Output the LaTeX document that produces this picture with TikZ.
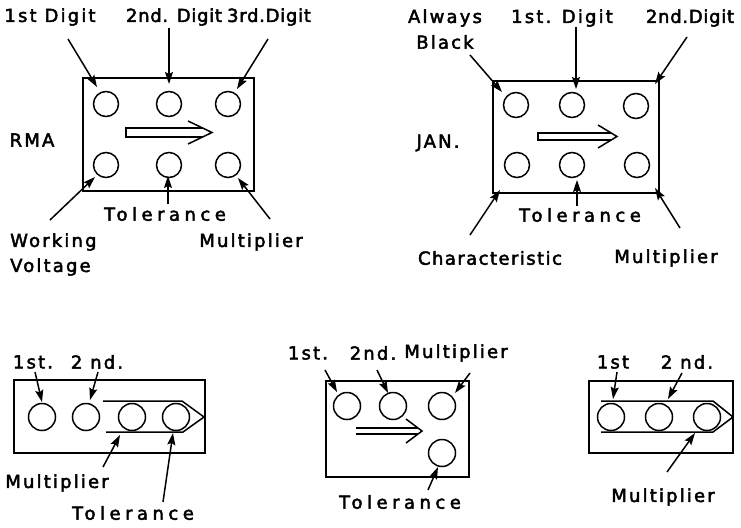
\documentclass[tikz,border=0pt]{standalone}
\usepackage{fontspec}
\setmainfont{DejaVu Sans}[LetterSpace=12,FakeBold=2.5]
\newfontfamily\widefont{DejaVu Sans}[LetterSpace=25,FakeBold=2.5]
\newfontfamily\tightfont{DejaVu Sans}[LetterSpace=4,FakeBold=2.5]
\newfontfamily\midfont{DejaVu Sans}[LetterSpace=8,FakeBold=2.5]
\usetikzlibrary{arrows.meta}
\begin{document}
\begin{tikzpicture}[x=1pt,y=-1pt,
  lab/.style={inner sep=0pt,font=\fontsize{18}{20}\selectfont},
  wlab/.style={inner sep=0pt,font=\fontsize{18}{20}\selectfont\widefont},
  tlab/.style={inner sep=0pt,font=\fontsize{18}{20}\selectfont\tightfont},
  mlab/.style={inner sep=0pt,font=\fontsize{18}{20}\selectfont\midfont},
  hole/.style={draw,circle,line width=1.5pt,minimum size=25pt,inner sep=0pt},
  bhole/.style={draw,circle,line width=1.5pt,minimum size=27pt,inner sep=0pt},
  case/.style={draw,line width=1.5pt,inner sep=0pt},
  ptr/.style={line width=1.5pt,-{Stealth[length=12pt,width=8pt,inset=2pt]}},
  outl/.style={line width=1.5pt,line join=miter}]
\useasboundingbox (0,0) rectangle (741,527);
% ---------- RMA ----------
\node[case,minimum width=171pt,minimum height=113pt] (rbox) at (168.5,134.5) {};
\node[hole] (r1) at (106,104) {};
\node[hole] (r2) at (169,104) {};
\node[hole] (r3) at (228,104) {};
\node[hole] (r4) at (106,165) {};
\node[hole] (r5) at (169,165) {};
\node[hole] (r6) at (228,165) {};
\draw[outl] (203,128)--(126,128)--(126,137)--(203,137);
\draw[outl] (188,121)--(212,132.5)--(188,144);
\node[lab] (rl1) at (50,17) {1st Digit};
\node[tlab] (rl2) at (174,17) {2nd. Digit};
\node[tlab] (rl3) at (269,17) {3rd.Digit};
\node[lab] (rma) at (32,140) {RMA};
\node[wlab] (rtol) at (165,214) {Tolerance};
\node[lab,anchor=west] (rwv1) at (10,242) {Working};
\node[lab,anchor=west] (rwv2) at (10,267) {Voltage};
\node[lab] (rmul) at (251,242) {Multiplier};
\coordinate (ra1) at (68,39);   \coordinate (rb1) at (97,87);
\coordinate (ra2) at (169,28);  \coordinate (rb2) at (169,84);
\coordinate (ra3) at (268,39);  \coordinate (rb3) at (237,89);
\coordinate (ra4) at (50,220);  \coordinate (rb4) at (95,177);
\coordinate (ra5) at (168,204); \coordinate (rb5) at (168,176);
\coordinate (ra6) at (270,219); \coordinate (rb6) at (238,178);
\foreach \i in {1,...,6} {\draw[ptr] (ra\i) -- (rb\i);}
% ---------- JAN ----------
\node[case,minimum width=166pt,minimum height=112pt] (jbox) at (576,137) {};
\node[hole] (j1) at (516,105) {};
\node[hole] (j2) at (572,105) {};
\node[hole] (j3) at (636,106) {};
\node[hole] (j4) at (517,165) {};
\node[hole] (j5) at (572,165) {};
\node[hole] (j6) at (637,165) {};
\draw[outl] (610.7,133)--(538,133)--(538,140)--(610.7,140);
\draw[outl] (598,125)--(617,136.5)--(598,148);
\node[lab] (jl0a) at (445,18) {Always};
\node[lab] (jl0b) at (445,42) {Black};
\node[lab] (jl1) at (562,18) {1st. Digit};
\node[tlab] (jl2) at (690,18) {2nd.Digit};
\node[lab] (jan) at (438,143) {JAN.};
\node[wlab] (jtol) at (580,215) {Tolerance};
\node[mlab] (jchar) at (490,258) {Characteristic};
\node[lab] (jmul) at (666,258) {Multiplier};
\coordinate (ja1) at (470,55);  \coordinate (jb1) at (502,92);
\coordinate (ja2) at (576,27);  \coordinate (jb2) at (576,89);
\coordinate (ja3) at (687,37);  \coordinate (jb3) at (655,84);
\coordinate (ja4) at (470,235); \coordinate (jb4) at (500,190);
\coordinate (ja5) at (577,206); \coordinate (jb5) at (577,180);
\coordinate (ja6) at (680,228); \coordinate (jb6) at (655,188);
\foreach \i in {1,...,6} {\draw[ptr] (ja\i) -- (jb\i);}
% ---------- bottom left ----------
\node[case,minimum width=191pt,minimum height=73pt] (abox) at (109.5,416.5) {};
\node[bhole] (a1) at (42,417) {};
\node[bhole] (a2) at (86,417) {};
\node[bhole] (a3) at (132,417) {};
\node[bhole] (a4) at (176,417) {};
\draw[outl] (103,401)--(182,401)--(204,417)--(183,432)--(106,432);
\node[lab] (al1) at (33,362) {1st.};
\node[lab] (al2) at (97,362) {2 nd.};
\node[lab] (amul) at (57,483) {Multiplier};
\node[wlab] (atol) at (133,513) {Tolerance};
\coordinate (aa1) at (35,372);  \coordinate (ab1) at (42,402);
\coordinate (aa2) at (98,372);  \coordinate (ab2) at (90,400);
\coordinate (aa3) at (103,467); \coordinate (ab3) at (120,435);
\coordinate (aa4) at (163,502); \coordinate (ab4) at (173,433);
\foreach \i in {1,...,4} {\draw[ptr] (aa\i) -- (ab\i);}
% ---------- bottom middle ----------
\node[case,minimum width=143pt,minimum height=96pt] (mbox) at (397.5,429) {};
\node[bhole] (m1) at (347,406) {};
\node[bhole] (m2) at (393,406) {};
\node[bhole] (m3) at (442,406) {};
\node[bhole] (m4) at (442,453) {};
\draw[outl] (356,428)--(418,428);
\draw[outl] (356,434)--(418,434);
\draw[outl] (406,419)--(422,431)--(406,443);
\node[lab] (ml1) at (308,353) {1st.};
\node[lab] (ml2) at (373,353) {2nd.};
\node[lab] (mmul) at (456,353) {Multiplier};
\node[wlab] (mtol) at (400,502) {Tolerance};
\coordinate (ma1) at (325,370); \coordinate (mb1) at (337,392);
\coordinate (ma2) at (377,370); \coordinate (mb2) at (388,393);
\coordinate (ma3) at (470,373); \coordinate (mb3) at (455,393);
\coordinate (ma4) at (428,490); \coordinate (mb4) at (438,467);
\foreach \i in {1,...,4} {\draw[ptr] (ma\i) -- (mb\i);}
% ---------- bottom right ----------
\node[case,minimum width=144pt,minimum height=72pt] (cbox) at (661,417) {};
\node[bhole] (c1) at (611,417) {};
\node[bhole] (c2) at (659,417) {};
\node[bhole] (c3) at (707,417) {};
\draw[outl] (601,401)--(713,401)--(733,417)--(713,432)--(601,432);
\node[lab] (cl1) at (613,362) {1st};
\node[lab] (cl2) at (687,362) {2 nd.};
\node[lab] (cmul) at (663,497) {Multiplier};
\coordinate (ca1) at (617,372); \coordinate (cb1) at (613,399);
\coordinate (ca2) at (682,373); \coordinate (cb2) at (668,399);
\coordinate (ca3) at (667,472); \coordinate (cb3) at (695,433);
\foreach \i in {1,...,3} {\draw[ptr] (ca\i) -- (cb\i);}
\end{tikzpicture}
\end{document}
